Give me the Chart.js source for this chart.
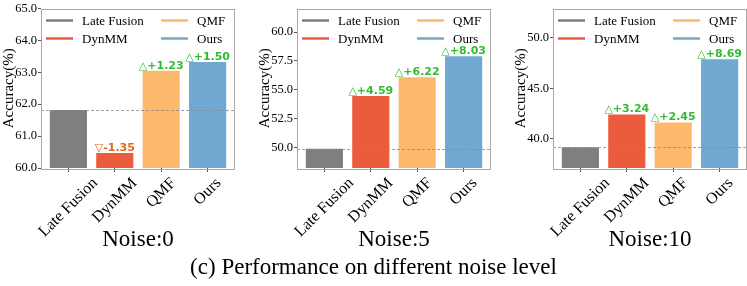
<!DOCTYPE html>
<html>
<head>
<meta charset="utf-8">
<script src="https://cdn.jsdelivr.net/npm/chart.js@4.4.0/dist/chart.umd.min.js"></script>
<style>
  html, body { margin: 0; padding: 0; background: #fff; }
  body { width: 747px; height: 286px; position: relative; overflow: hidden; font-family: "Liberation Serif", "Times New Roman", serif; }
  .panel { position: absolute; top: 0; width: 236px; height: 248px; }
  .noise { position: absolute; top: 226px; width: 194px; text-align: center; font-size: 23px; line-height: 26px; }
  .caption { position: absolute; left: 0; width: 747px; top: 254px; text-align: center; font-size: 23px; line-height: 26px; }
</style>
</head>
<body>
<div class="panel" style="left:0px"><canvas id="c0"></canvas></div>
<div class="panel" style="left:256px"><canvas id="c1"></canvas></div>
<div class="panel" style="left:512px"><canvas id="c2"></canvas></div>
<div class="noise" style="left:41px">Noise:0</div>
<div class="noise" style="left:297px">Noise:5</div>
<div class="noise" style="left:553px">Noise:10</div>
<div class="caption">(c) Performance on different noise level</div>

<script>
// data
const categories = ['Late Fusion', 'DynMM', 'QMF', 'Ours'];
const barColors = ['#7f7f7f', '#eb5c3d', '#fdb96b', '#6fa8d0'];

const noiseLabels = ['Noise:0', 'Noise:5', 'Noise:10'];
const accNoise0 = [61.82, 60.47, 63.05, 63.32];
const accNoise5 = [49.87, 54.46, 56.09, 57.90];
const accNoise10 = [39.19, 42.43, 41.64, 47.88];

const deltaNoise0 = ['', '-1.35', '+1.23', '+1.50'];
const deltaNoise5 = ['', '+4.59', '+6.22', '+8.03'];
const deltaNoise10 = ['', '+3.24', '+2.45', '+8.69'];

const yTicks0 = [60, 61, 62, 63, 64, 65];
const yTicks5 = [50, 52.5, 55, 57.5, 60];
const yTicks10 = [40, 45, 50];

const yRange0 = [60, 65];
const yRange5 = [48.2, 62.05];
const yRange10 = [37.13, 52.9];

const SERIF = '"Liberation Serif", "Times New Roman", serif';

// frame, baseline, in-plot legend, delta labels and centred 45deg x labels
const extrasPlugin = {
  id: 'extras',
  afterDatasetsDraw(chart, args, opts) {
    const ctx = chart.ctx;
    const area = chart.chartArea;
    const meta = chart.getDatasetMeta(0);
    const yScale = chart.scales.y;
    const xScale = chart.scales.x;

    ctx.save();
    // dashed baseline at Late Fusion
    const by = Math.round(yScale.getPixelForValue(opts.values[0])) + 0.5;
    ctx.strokeStyle = '#8a8a8a';
    ctx.lineWidth = 0.8;
    ctx.setLineDash([3, 2]);
    ctx.beginPath();
    ctx.moveTo(area.left, by);
    ctx.lineTo(area.right, by);
    ctx.stroke();
    ctx.setLineDash([]);

    // frame
    ctx.strokeStyle = '#a8a8a8';
    ctx.lineWidth = 1;
    ctx.strokeRect(Math.round(area.left) + 0.5, Math.round(area.top) + 0.5,
      Math.round(area.right - area.left) - 1, Math.round(area.bottom - area.top));

    // delta annotations
    ctx.font = 'bold 11px "DejaVu Sans", sans-serif';
    ctx.textAlign = 'center';
    ctx.textBaseline = 'alphabetic';
    opts.deltas.forEach((d, i) => {
      if (!d) return;
      const bar = meta.data[i];
      const up = d[0] !== '-';
      ctx.fillStyle = up ? '#33bb33' : '#e0691f';
      ctx.fillText((up ? '\u25B3' : '\u25BD') + d, bar.x, bar.y - 2);
    });

    // legend, two columns
    ctx.font = '13px ' + SERIF;
    ctx.textAlign = 'left';
    ctx.textBaseline = 'middle';
    categories.forEach((c, i) => {
      const col = Math.floor(i / 2);
      const row = i % 2;
      const x0 = area.left + (col === 0 ? 5 : 120);
      const y0 = area.top + 12 + row * 18;
      ctx.strokeStyle = barColors[i];
      ctx.lineWidth = 2.5;
      ctx.beginPath();
      ctx.moveTo(x0, y0);
      ctx.lineTo(x0 + 27, y0);
      ctx.stroke();
      ctx.fillStyle = '#000';
      ctx.fillText(c, x0 + 36, y0 + 1);
    });

    // x labels rotated 45deg, bounding box centred under each tick
    ctx.font = '16px ' + SERIF;
    ctx.fillStyle = '#000';
    ctx.textAlign = 'center';
    ctx.textBaseline = 'middle';
    const lh = 16;
    const c45 = Math.SQRT1_2;
    categories.forEach((c, i) => {
      const w = ctx.measureText(c).width;
      const boxH = (w + lh) * c45;
      const x = xScale.getPixelForValue(i);
      const y = area.bottom + 7 + boxH / 2;
      ctx.save();
      ctx.translate(x, y);
      ctx.rotate(-Math.PI / 4);
      ctx.fillText(c, 0, 0);
      ctx.restore();
    });
    ctx.restore();
  }
};

function makePanel(id, values, deltas, yTicks, yRange) {
  const ctx = document.getElementById(id).getContext('2d');
  return new Chart(ctx, {
    type: 'bar',
    data: {
      datasets: [{
        data: values.map((v, i) => ({ x: i, y: v })),
        backgroundColor: barColors,
        borderWidth: 0,
        barPercentage: 0.8,
        categoryPercentage: 1
      }]
    },
    options: {
      responsive: true,
      maintainAspectRatio: false,
      animation: false,
      layout: { padding: { top: 5, right: 1, left: 0, bottom: 0 } },
      plugins: {
        legend: { display: false },
        tooltip: { enabled: false },
        extras: { values: values, deltas: deltas }
      },
      scales: {
        x: {
          type: 'linear',
          offset: false,
          min: -0.59,
          max: 3.59,
          afterBuildTicks: (scale) => { scale.ticks = categories.map((c, i) => ({ value: i })); },
          afterFit: (scale) => { scale.height = 80; },
          border: { display: false },
          grid: { offset: false, drawOnChartArea: false, drawTicks: true, tickLength: 4, color: '#555' },
          ticks: { display: false }
        },
        y: {
          min: yRange[0],
          max: yRange[1],
          afterBuildTicks: (scale) => { scale.ticks = yTicks.map(v => ({ value: v })); },
          afterFit: (scale) => { scale.width = 41; },
          border: { display: false },
          grid: { drawOnChartArea: false, drawTicks: true, tickLength: 3, color: '#555' },
          title: {
            display: true,
            text: 'Accuracy(%)',
            color: '#000',
            padding: { top: 0, bottom: 0 },
            font: { family: SERIF, size: 15 }
          },
          ticks: {
            padding: 1,
            color: '#000',
            font: { family: SERIF, size: 12.5 },
            callback: (v) => Number(v).toFixed(1)
          }
        }
      }
    },
    plugins: [extrasPlugin]
  });
}

makePanel('c0', accNoise0, deltaNoise0, yTicks0, yRange0);
makePanel('c1', accNoise5, deltaNoise5, yTicks5, yRange5);
makePanel('c2', accNoise10, deltaNoise10, yTicks10, yRange10);
</script>
</body>
</html>
